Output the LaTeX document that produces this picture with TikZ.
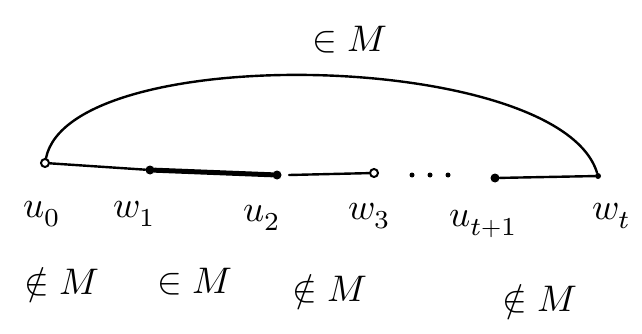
\documentclass[tikz,border=0pt]{standalone}
\usepackage{unicode-math}
\setmathfont{Latin Modern Math}
\begin{document}
\begin{tikzpicture}[x=1pt,y=-1pt,
  thinedge/.style={line width=2.4pt,line cap=round},
  thickedge/.style={line width=5pt,line cap=round},
  opendot/.style={circle,draw,line width=2pt,fill=white,inner sep=0pt,minimum size=8pt},
  fulldot/.style={circle,fill,inner sep=0pt,minimum size=9pt},
  smalldot/.style={circle,fill,inner sep=0pt,minimum size=5pt},
  lbl/.style={scale=3.7,inner sep=0pt}]
\useasboundingbox (0,0) rectangle (642,334);
\node[opendot] (u0) at (45,163) {};
\node[fulldot] (w1) at (150,170) {};
\node[fulldot] (u2) at (277,175) {};
\node[opendot] (w3) at (374,173) {};
\node[fulldot] (ut) at (495,178) {};
\node[fulldot,minimum size=6pt] (wt) at (598,176) {};
\node[smalldot] (d1) at (412,175) {};
\node[smalldot] (d2) at (430,175) {};
\node[smalldot] (d3) at (448,175) {};
\draw[thinedge] (u0) .. controls (70,40) and (560,50) .. (wt);
\draw[thinedge] (u0) -- (w1);
\draw[thickedge] (w1) -- (u2);
\draw[thinedge] (u2) ++(12,0) coordinate (u2r) (u2r) -- (w3);
\draw[thinedge] (ut) -- (wt);
\node[lbl] (top) at (350,40) {$\in M$};
\node[lbl] (lu0) at (42,214) {$u_0$};
\node[lbl] (lw1) at (135,214) {$w_1$};
\node[lbl] (lu2) at (262,218) {$u_2$};
\node[lbl] (lw3) at (370,216) {$w_3$};
\node[lbl] (lut) at (484,224) {$u_{t+1}$};
\node[lbl] (lwt) at (612,216) {$w_t$};
\node[lbl] (e1) at (62,285) {$∉ M$};
\node[lbl] (e2) at (195,282) {$\in M$};
\node[lbl] (e3) at (330,292) {$∉ M$};
\node[lbl] (e4) at (540,302) {$∉ M$};
\end{tikzpicture}
\end{document}
